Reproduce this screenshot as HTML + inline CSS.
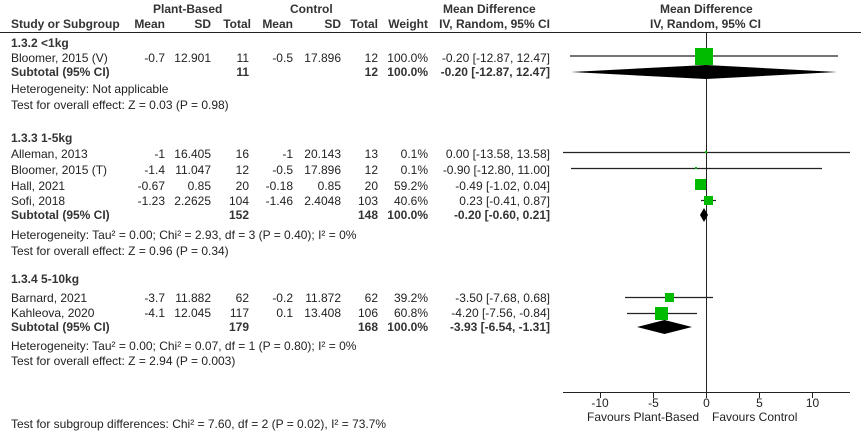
<!DOCTYPE html>
<html><head><meta charset="utf-8"><style>
body{margin:0;background:#fff;}
#c{position:relative;width:861px;height:432px;overflow:hidden;font-family:"Liberation Sans",Arial,sans-serif;font-size:12px;color:#222;}
.t{position:absolute;white-space:nowrap;line-height:14px;}
.b{font-weight:bold;color:#333;}
.r{text-align:right;}
svg{position:absolute;left:0;top:0;}
</style></head><body><div id="c">
<svg width="861" height="432">
<line x1="0" y1="32.5" x2="861" y2="32.5" stroke="#222" stroke-width="1"/>
<line x1="706.5" y1="33" x2="706.5" y2="392" stroke="#222"/>
<line x1="563" y1="392.5" x2="850" y2="392.5" stroke="#222"/>
<g stroke="#222"><line x1="600.5" y1="392" x2="600.5" y2="398"/><line x1="653.5" y1="392" x2="653.5" y2="398"/><line x1="706.5" y1="392" x2="706.5" y2="398"/><line x1="759.5" y1="392" x2="759.5" y2="398"/><line x1="812.5" y1="392" x2="812.5" y2="398"/></g>
<g stroke="#222" stroke-width="1.2">
<line x1="570" y1="56" x2="838" y2="56"/>
<line x1="563" y1="152.5" x2="850" y2="152.5"/>
<line x1="571" y1="168.5" x2="822" y2="168.5"/>
<line x1="695" y1="184.5" x2="707" y2="184.5"/>
<line x1="701" y1="200.5" x2="716" y2="200.5"/>
<line x1="625" y1="297.5" x2="713" y2="297.5"/>
<line x1="627" y1="313.5" x2="697" y2="313.5"/>
</g>
<g fill="#00bb00">
<rect x="695" y="48" width="18" height="17"/>
<rect x="705" y="151" width="2" height="2"/>
<rect x="695" y="167" width="2" height="2"/>
<rect x="695" y="179" width="11" height="11"/>
<rect x="704" y="196" width="9" height="9"/>
<rect x="665" y="293" width="9" height="9"/>
<rect x="655" y="307" width="13" height="13"/>
</g>
<g fill="#000">
<polygon points="571,72 706,65 837,72 706,79"/>
<polygon points="700,215 704,208 708,215 704,222"/>
<polygon points="637,327 664.5,320 692,327 664.5,334"/>
</g>
</svg>
<div class="t b" style="left:153px;top:2px">Plant-Based</div>
<div class="t b" style="left:290px;top:2px">Control</div>
<div class="t b" style="left:443px;top:2px">Mean Difference</div>
<div class="t b" style="left:660px;top:2px">Mean Difference</div>
<div class="t b" style="left:11px;top:17px">Study or Subgroup</div>
<div class="t b r" style="right:696px;top:17px">Mean</div>
<div class="t b r" style="right:650px;top:17px">SD</div>
<div class="t b r" style="right:610px;top:17px">Total</div>
<div class="t b r" style="right:568px;top:17px">Mean</div>
<div class="t b r" style="right:520px;top:17px">SD</div>
<div class="t b r" style="right:483px;top:17px">Total</div>
<div class="t b r" style="right:433px;top:17px">Weight</div>
<div class="t b r" style="right:311px;top:17px">IV, Random, 95% CI</div>
<div class="t b" style="left:650px;top:17px">IV, Random, 95% CI</div>

<div class="t b" style="left:11px;top:36px">1.3.2 &lt;1kg</div>
<div class="t" style="left:11px;top:51px">Bloomer, 2015 (V)</div>
<div class="t r" style="right:696px;top:51px">-0.7</div><div class="t r" style="right:650px;top:51px">12.901</div><div class="t r" style="right:612px;top:51px">11</div><div class="t r" style="right:568px;top:51px">-0.5</div><div class="t r" style="right:520px;top:51px">17.896</div><div class="t r" style="right:483px;top:51px">12</div><div class="t r" style="right:433px;top:51px">100.0%</div><div class="t r" style="right:311px;top:51px">-0.20 [-12.87, 12.47]</div>
<div class="t b" style="left:11px;top:65px">Subtotal (95% CI)</div>
<div class="t b r" style="right:612px;top:65px">11</div><div class="t b r" style="right:483px;top:65px">12</div><div class="t b r" style="right:433px;top:65px">100.0%</div><div class="t b r" style="right:311px;top:65px">-0.20 [-12.87, 12.47]</div>
<div class="t" style="left:11px;top:82px">Heterogeneity: Not applicable</div>
<div class="t" style="left:11px;top:98px">Test for overall effect: Z = 0.03 (P = 0.98)</div>

<div class="t b" style="left:11px;top:131px">1.3.3 1-5kg</div>
<div class="t" style="left:11px;top:147px">Alleman, 2013</div>
<div class="t r" style="right:696px;top:147px">-1</div><div class="t r" style="right:650px;top:147px">16.405</div><div class="t r" style="right:612px;top:147px">16</div><div class="t r" style="right:568px;top:147px">-1</div><div class="t r" style="right:520px;top:147px">20.143</div><div class="t r" style="right:483px;top:147px">13</div><div class="t r" style="right:433px;top:147px">0.1%</div><div class="t r" style="right:311px;top:147px">0.00 [-13.58, 13.58]</div>
<div class="t" style="left:11px;top:163px">Bloomer, 2015 (T)</div>
<div class="t r" style="right:696px;top:163px">-1.4</div><div class="t r" style="right:650px;top:163px">11.047</div><div class="t r" style="right:612px;top:163px">12</div><div class="t r" style="right:568px;top:163px">-0.5</div><div class="t r" style="right:520px;top:163px">17.896</div><div class="t r" style="right:483px;top:163px">12</div><div class="t r" style="right:433px;top:163px">0.1%</div><div class="t r" style="right:311px;top:163px">-0.90 [-12.80, 11.00]</div>
<div class="t" style="left:11px;top:179px">Hall, 2021</div>
<div class="t r" style="right:696px;top:179px">-0.67</div><div class="t r" style="right:650px;top:179px">0.85</div><div class="t r" style="right:612px;top:179px">20</div><div class="t r" style="right:568px;top:179px">-0.18</div><div class="t r" style="right:520px;top:179px">0.85</div><div class="t r" style="right:483px;top:179px">20</div><div class="t r" style="right:433px;top:179px">59.2%</div><div class="t r" style="right:311px;top:179px">-0.49 [-1.02, 0.04]</div>
<div class="t" style="left:11px;top:194px">Sofi, 2018</div>
<div class="t r" style="right:696px;top:194px">-1.23</div><div class="t r" style="right:650px;top:194px">2.2625</div><div class="t r" style="right:612px;top:194px">104</div><div class="t r" style="right:568px;top:194px">-1.46</div><div class="t r" style="right:520px;top:194px">2.4048</div><div class="t r" style="right:483px;top:194px">103</div><div class="t r" style="right:433px;top:194px">40.6%</div><div class="t r" style="right:311px;top:194px">0.23 [-0.41, 0.87]</div>
<div class="t b" style="left:11px;top:208px">Subtotal (95% CI)</div>
<div class="t b r" style="right:612px;top:208px">152</div><div class="t b r" style="right:483px;top:208px">148</div><div class="t b r" style="right:433px;top:208px">100.0%</div><div class="t b r" style="right:311px;top:208px">-0.20 [-0.60, 0.21]</div>
<div class="t" style="left:11px;top:228px">Heterogeneity: Tau² = 0.00; Chi² = 2.93, df = 3 (P = 0.40); I² = 0%</div>
<div class="t" style="left:11px;top:244px">Test for overall effect: Z = 0.96 (P = 0.34)</div>

<div class="t b" style="left:11px;top:272px">1.3.4 5-10kg</div>
<div class="t" style="left:11px;top:291px">Barnard, 2021</div>
<div class="t r" style="right:696px;top:291px">-3.7</div><div class="t r" style="right:650px;top:291px">11.882</div><div class="t r" style="right:612px;top:291px">62</div><div class="t r" style="right:568px;top:291px">-0.2</div><div class="t r" style="right:520px;top:291px">11.872</div><div class="t r" style="right:483px;top:291px">62</div><div class="t r" style="right:433px;top:291px">39.2%</div><div class="t r" style="right:311px;top:291px">-3.50 [-7.68, 0.68]</div>
<div class="t" style="left:11px;top:306px">Kahleova, 2020</div>
<div class="t r" style="right:696px;top:306px">-4.1</div><div class="t r" style="right:650px;top:306px">12.045</div><div class="t r" style="right:612px;top:306px">117</div><div class="t r" style="right:568px;top:306px">0.1</div><div class="t r" style="right:520px;top:306px">13.408</div><div class="t r" style="right:483px;top:306px">106</div><div class="t r" style="right:433px;top:306px">60.8%</div><div class="t r" style="right:311px;top:306px">-4.20 [-7.56, -0.84]</div>
<div class="t b" style="left:11px;top:320px">Subtotal (95% CI)</div>
<div class="t b r" style="right:612px;top:320px">179</div><div class="t b r" style="right:483px;top:320px">168</div><div class="t b r" style="right:433px;top:320px">100.0%</div><div class="t b r" style="right:311px;top:320px">-3.93 [-6.54, -1.31]</div>
<div class="t" style="left:11px;top:339px">Heterogeneity: Tau² = 0.00; Chi² = 0.07, df = 1 (P = 0.80); I² = 0%</div>
<div class="t" style="left:11px;top:354px">Test for overall effect: Z = 2.94 (P = 0.003)</div>
<div class="t" style="left:11px;top:417px">Test for subgroup differences: Chi² = 7.60, df = 2 (P = 0.02), I² = 73.7%</div>

<div class="t" style="left:585px;top:396px;width:30px;text-align:center">-10</div>
<div class="t" style="left:641px;top:396px;width:25px;text-align:center">-5</div>
<div class="t" style="left:694px;top:396px;width:25px;text-align:center">0</div>
<div class="t" style="left:747px;top:396px;width:25px;text-align:center">5</div>
<div class="t" style="left:800px;top:396px;width:25px;text-align:center">10</div>
<div class="t" style="left:587px;top:410px">Favours Plant-Based</div>
<div class="t" style="left:712px;top:410px">Favours Control</div>
</div></body></html>
